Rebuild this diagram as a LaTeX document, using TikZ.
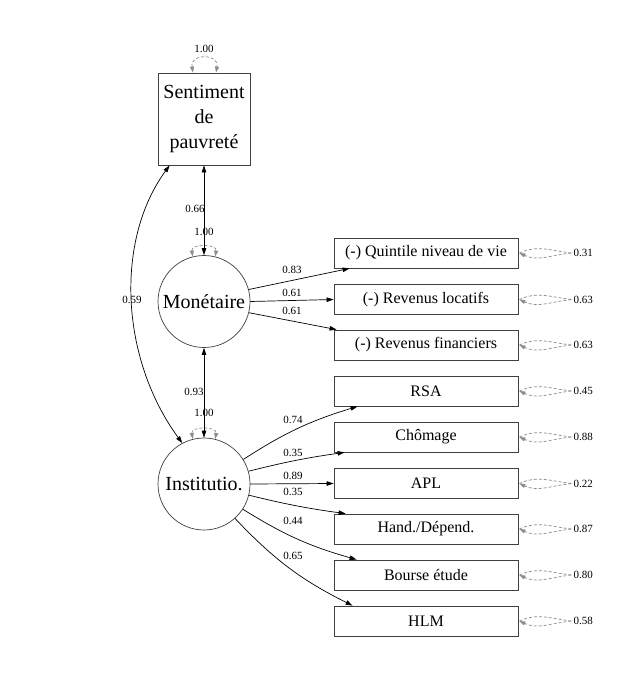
\documentclass[tikz,border=0pt]{standalone}
\usepackage{fontspec}
\setmainfont{Liberation Serif}
\usetikzlibrary{arrows.meta,calc}
\begin{document}
\begin{tikzpicture}[x=1pt,y=-1pt,
  obsbox/.style={draw=black!75,line width=0.8pt,minimum width=184pt,minimum height=30pt,inner sep=0pt,font=\fontsize{16}{19}\selectfont},
  latent/.style={circle,draw=black!75,line width=0.7pt,minimum size=92pt,inner sep=0pt,font=\fontsize{20}{24}\selectfont},
  lab/.style={font=\fontsize{11}{13}\selectfont,inner sep=0pt},
  edge/.style={line width=0.7pt,-{Triangle[length=7pt,width=4.5pt]}},
  dedge/.style={line width=0.7pt,{Triangle[length=7pt,width=4.5pt]}-{Triangle[length=7pt,width=4.5pt]}},
  varloop/.style={draw=black!45,line width=0.7pt,dash pattern=on 3pt off 2pt,{Triangle[length=6pt,width=4pt]}-{Triangle[length=6pt,width=4pt]}},
  resid/.style={draw=black!45,line width=0.7pt,dash pattern=on 3pt off 2pt,-{Triangle[length=6pt,width=4pt]}},
]
\useasboundingbox (0,0) rectangle (640,680);
\fill[white] (0,0) rectangle (640,680);

% main nodes
\node[draw=black!75,line width=0.8pt,minimum width=92pt,minimum height=92pt,inner sep=0pt,align=center,font=\fontsize{20}{25}\selectfont] (s) at (204,119) {Sentiment\\de\\pauvreté};
\node[latent] (m) at (204,301.5) {Monétaire};
\node[latent] (i) at (204,484) {Institutio.};

% observed boxes
\node[obsbox] (q)  at (426,253) {(-) Quintile niveau de vie};
\node[obsbox] (rl) at (426,299.5) {(-) Revenus locatifs};
\node[obsbox] (rf) at (426,345) {(-) Revenus financiers};
\node[obsbox] (rsa) at (426,391) {RSA};
\node[obsbox] (ch) at (426,437) {Chômage};
\node[obsbox] (apl) at (426,483.5) {APL};
\node[obsbox] (hd) at (426,529) {Hand./Dépend.};
\node[obsbox] (be) at (426,575) {Bourse étude};
\node[obsbox] (hlm) at (426,621) {HLM};

% variance loops on latents
\draw[varloop] ([xshift=-11pt]s.north) to[out=100,in=80,looseness=2.2] ([xshift=12pt]s.north);
\node[lab] (vs) at (204,49) {1.00};
\draw[varloop] (m.104) to[out=100,in=80,looseness=1.5] (m.76);
\node[lab] (vm) at (204,232) {1.00};
\draw[varloop] (i.104) to[out=100,in=80,looseness=1.5] (i.76);
\node[lab] (vi) at (204,413) {1.00};

% covariances
\draw[dedge] (s.south) -- (m.north);
\node[lab] (c1) at (195,209) {0.66};
\draw[dedge] (m.south) -- (i.north);
\node[lab] (c2) at (194,392) {0.93};
\draw[dedge] ([xshift=12pt]s.south west) .. controls (115,240) and (120,358) .. (i.118);
\node[lab] (c3) at (132,300) {0.59};

% loadings Monetaire
\draw[edge] (m.15) -- ([xshift=16pt]q.south west);
\node[lab] (l1) at (292,270) {0.83};
\draw[edge] (m.east) -- (rl.west);
\node[lab] (l2) at (292,293) {0.61};
\draw[edge] (m.-14) -- ([xshift=3pt]rf.north west);
\node[lab] (l3) at (292,311) {0.61};

% loadings Institutio
\draw[edge] (i.32) to[bend left=8] ([xshift=24pt]rsa.south west);
\node[lab] (l4) at (293,420) {0.74};
\draw[edge] (i.16) to[bend left=3] ([xshift=11pt]ch.south west);
\node[lab] (l5) at (293,453) {0.35};
\draw[edge] (i.east) -- (apl.west);
\node[lab] (l6) at (293,476) {0.89};
\draw[edge] (i.-14) to[bend right=3] ([xshift=12pt]hd.north west);
\node[lab] (l7) at (293,492) {0.35};
\draw[edge] (i.-33) to[bend right=8] ([xshift=23pt]be.north west);
\node[lab] (l8) at (293,521) {0.44};
\draw[edge] (i.-48) to[bend right=10] ([xshift=19pt]hlm.north west);
\node[lab] (l9) at (293,556) {0.65};

% residual loops
\foreach \b/\v in {q/0.31,rl/0.63,rf/0.63,rsa/0.45,ch/0.88,apl/0.22,hd/0.87,be/0.80,hlm/0.58}{
  \coordinate (\b-r) at ([xshift=54pt]\b.east);
  \draw[resid] ([xshift=1pt]\b.east) to[out=25,in=175] (\b-r) to[out=-175,in=-25] ([xshift=1pt]\b.east);
  \node[lab,anchor=west] (\b-v) at ([xshift=1pt]\b-r) {\v};
}
\end{tikzpicture}
\end{document}
